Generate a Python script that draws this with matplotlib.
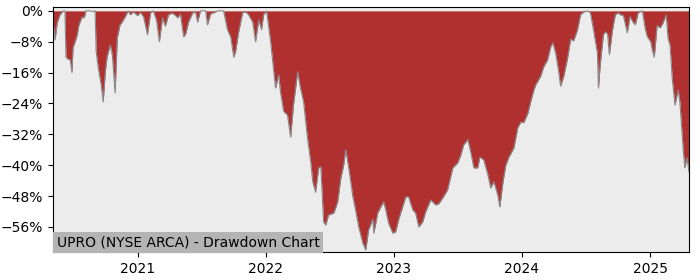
import pandas as pd
import matplotlib
matplotlib.use("Agg")
import matplotlib.pyplot as plt
import matplotlib.dates as mdates
from matplotlib.ticker import PercentFormatter

# drawdown (date, % below running peak)
dates = [
    "2020-05-05", "2020-05-11", "2020-05-17", "2020-05-25", "2020-06-03", "2020-06-08",
    "2020-06-11", "2020-06-17", "2020-06-23", "2020-06-28", "2020-07-01", "2020-07-07",
    "2020-07-13", "2020-07-18", "2020-07-27", "2020-08-02", "2020-08-07", "2020-08-19",
    "2020-08-28", "2020-09-02", "2020-09-05", "2020-09-11", "2020-09-19", "2020-09-25",
    "2020-10-01", "2020-10-06", "2020-10-15", "2020-10-21", "2020-10-29", "2020-11-04",
    "2020-11-12", "2020-11-18", "2020-11-27", "2020-12-05", "2020-12-11", "2020-12-20",
    "2021-01-01", "2021-01-09", "2021-01-18", "2021-01-29", "2021-02-07", "2021-02-15",
    "2021-02-24", "2021-03-04", "2021-03-13", "2021-03-21", "2021-03-30", "2021-04-10",
    "2021-04-19", "2021-04-25", "2021-05-03", "2021-05-12", "2021-05-18", "2021-05-26",
    "2021-06-07", "2021-06-15", "2021-06-21", "2021-06-29", "2021-07-14", "2021-07-19",
    "2021-07-28", "2021-08-05", "2021-08-17", "2021-09-03", "2021-09-14", "2021-09-23",
    "2021-10-02", "2021-10-07", "2021-10-16", "2021-10-27", "2021-11-05", "2021-11-13",
    "2021-11-25", "2021-12-03", "2021-12-12", "2021-12-20", "2021-12-26",
    "2022-01-03", "2022-01-06", "2022-01-15", "2022-01-24", "2022-01-29", "2022-02-07",
    "2022-02-12", "2022-02-21", "2022-03-04", "2022-03-13", "2022-03-21", "2022-04-02",
    "2022-04-10", "2022-04-19", "2022-04-30", "2022-05-09", "2022-05-15", "2022-05-23",
    "2022-06-01", "2022-06-07", "2022-06-15", "2022-06-21", "2022-06-29", "2022-07-14",
    "2022-07-25", "2022-08-03", "2022-08-11", "2022-08-17", "2022-08-26", "2022-09-06",
    "2022-09-14", "2022-09-23", "2022-10-04", "2022-10-13", "2022-10-21", "2022-11-02",
    "2022-11-05", "2022-11-16", "2022-11-25", "2022-12-03", "2022-12-09", "2022-12-17",
    "2022-12-29",
    "2023-01-06", "2023-01-15", "2023-01-26", "2023-02-04", "2023-02-12", "2023-02-24",
    "2023-03-04", "2023-03-13", "2023-03-24", "2023-04-02", "2023-04-10", "2023-04-16",
    "2023-04-30", "2023-05-09", "2023-05-20", "2023-06-03", "2023-06-18", "2023-07-02",
    "2023-07-11", "2023-07-19", "2023-07-31", "2023-08-08", "2023-08-17", "2023-08-28",
    "2023-09-03", "2023-09-14", "2023-09-26", "2023-10-04", "2023-10-13", "2023-10-24",
    "2023-10-30", "2023-11-08", "2023-11-16", "2023-11-25", "2023-12-09", "2023-12-20",
    "2023-12-29",
    "2024-01-06", "2024-01-18", "2024-01-26", "2024-02-04", "2024-02-09", "2024-02-23",
    "2024-03-03", "2024-03-14", "2024-03-23", "2024-03-29", "2024-04-06", "2024-04-15",
    "2024-04-20", "2024-04-29", "2024-05-10", "2024-05-19", "2024-05-27", "2024-06-07",
    "2024-06-16", "2024-06-24", "2024-07-06", "2024-07-14", "2024-07-23", "2024-08-03",
    "2024-08-06", "2024-08-11", "2024-08-20", "2024-08-26", "2024-09-01", "2024-09-06",
    "2024-09-15", "2024-09-23", "2024-10-02", "2024-10-07", "2024-10-16", "2024-10-27",
    "2024-11-04", "2024-11-13", "2024-11-19", "2024-11-27", "2024-12-09", "2024-12-17",
    "2024-12-23",
    "2025-01-02", "2025-01-06", "2025-01-12", "2025-01-20", "2025-01-29", "2025-02-06",
    "2025-02-15", "2025-02-20", "2025-02-26", "2025-03-04", "2025-03-12", "2025-03-21",
    "2025-03-26", "2025-04-04", "2025-04-09", "2025-04-15", "2025-04-21",
]
drawdown = [
    -2.5, -7.5, -3.0, -1.0, 0.0, 0.0,
    -12.0, -12.5, -12.7, -16.0, -9.6, -8.0,
    -6.2, -3.6, -1.6, -1.8, 0.0, 0.0,
    -0.2, 0.0, -10.6, -14.8, -19.0, -23.6,
    -15.8, -12.0, -8.8, -11.4, -21.3, -7.0,
    -3.6, -2.9, -1.5, 0.0, -1.0, -0.3,
    -1.2, -0.4, -1.5, -6.2, -0.5, 0.0,
    -2.5, -8.0, -1.8, -4.0, -1.0, -0.6,
    -1.2, -1.8, -0.8, -6.7, -6.0, -2.9,
    -0.5, -0.3, -2.9, 0.0, 0.0, -3.6,
    -0.8, -0.5, 0.0, 0.0, -4.9, -6.7,
    -12.0, -10.6, -5.4, -0.5, -0.3, -1.0,
    -2.9, -8.0, -2.3, -4.9, -1.0,
    0.0, -1.8, -8.0, -15.8, -20.0, -16.6,
    -21.0, -26.0, -27.0, -32.7, -24.4, -15.8,
    -20.0, -23.6, -33.0, -39.0, -44.3, -47.0,
    -40.7, -40.4, -54.7, -55.5, -52.9, -52.4,
    -49.5, -43.3, -40.0, -36.0, -41.0, -48.0,
    -51.6, -56.0, -60.0, -62.0, -56.8, -54.0,
    -57.6, -52.4, -50.8, -49.5, -51.6, -55.0,
    -57.6,
    -57.3, -54.0, -50.8, -48.2, -48.2, -51.6,
    -52.4, -56.0, -54.7, -52.0, -50.3, -49.0,
    -50.3, -50.0, -48.5, -46.4, -40.7, -39.4,
    -37.3, -34.7, -33.4, -36.6, -40.7, -40.7,
    -37.9, -38.6, -42.5, -45.9, -44.3, -47.7,
    -50.8, -44.3, -40.0, -37.9, -35.5, -30.3,
    -28.8,
    -29.0, -26.5, -23.5, -20.5, -19.2, -17.0,
    -14.5, -12.7, -9.3, -8.3, -10.9, -16.0,
    -19.5, -17.0, -12.2, -7.3, -7.8, -5.0,
    -1.0, -0.3, 0.0, -0.5, -5.0, -11.0,
    -20.0, -14.0, -6.2, -5.4, -6.0, -11.4,
    -4.9, -1.0, -0.5, -1.0, -1.2, -5.7,
    -1.5, -3.0, -3.6, -0.5, 0.0, -4.5,
    -6.7,
    -8.0, -10.0, -12.0, -3.8, -4.4, -3.1,
    -1.0, -7.0, -9.0, -17.4, -24.4, -20.5,
    -23.6, -35.5, -40.7, -38.1, -41.7,
]
yticks = [0, -8, -16, -24, -32, -40, -48, -56]
title = "UPRO (NYSE ARCA) - Drawdown Chart"

df = pd.DataFrame({"date": pd.to_datetime(dates), "dd": drawdown})

fig = plt.figure(figsize=(7, 2.8), dpi=100)
ax = fig.add_axes([0.0757, 0.1, 0.9086, 0.875])
ax.set_facecolor("#ececec")

ax.fill_between(df["date"], df["dd"], 0, color="#b03030", linewidth=0)
ax.plot(df["date"], df["dd"], color="#888888", linewidth=0.8)

ax.set_xlim(df["date"].iloc[0], df["date"].iloc[-1])
ax.set_ylim(-62.5, 1.0)
ax.set_yticks(yticks)
ax.yaxis.set_major_formatter(PercentFormatter(decimals=0))
ax.xaxis.set_major_locator(mdates.YearLocator())
ax.xaxis.set_major_formatter(mdates.DateFormatter("%Y"))
ax.tick_params(labelsize=10)

ax.text(0.006, 0.012, title, transform=ax.transAxes, fontsize=10,
        ha="left", va="bottom",
        bbox=dict(facecolor="#b4b4b4", edgecolor="none", pad=2.5))

plt.savefig("out.png", dpi=100)
plt.close()
